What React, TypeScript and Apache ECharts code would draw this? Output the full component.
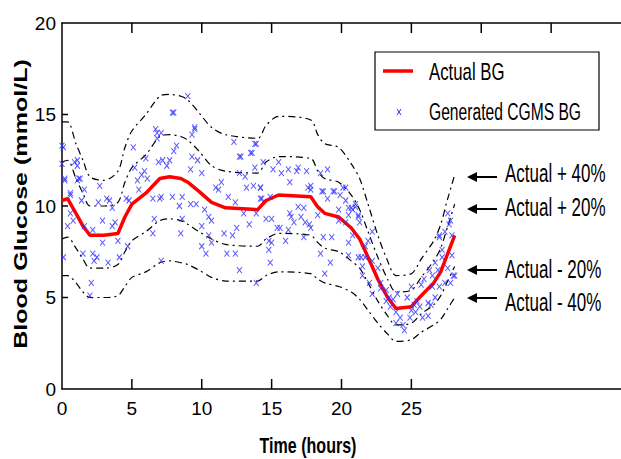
import React, { useEffect, useRef } from "react";
import * as echarts from "echarts";

const hours = [0, 0.4, 1, 1.5, 2, 3, 4, 4.5, 5, 6, 7, 7.7, 8.5, 9, 9.8, 10.7, 11.7, 14, 14.6, 15.5, 17.8, 18.3, 18.8, 19.8, 20.7, 21.3, 21.9, 22.6, 23.3, 23.9, 25, 25.7, 26.6, 27.1, 27.6, 28.1];
const actualBG = [10.3, 10.4, 9.6, 8.9, 8.4, 8.4, 8.5, 9.4, 10.1, 10.7, 11.5, 11.6, 11.5, 11.3, 10.8, 10.2, 9.9, 9.8, 10.3, 10.6, 10.5, 9.95, 9.6, 9.4, 8.8, 8.2, 7.2, 6.0, 5.0, 4.4, 4.5, 5.1, 5.8, 6.4, 7.4, 8.4];
const plus40 = [14.6, 14.6, 13.4, 12.5, 11.6, 11.4, 11.9, 13.2, 14.1, 15.0, 16.0, 16.1, 16.0, 15.8, 15.1, 14.3, 13.9, 13.7, 14.4, 14.9, 14.7, 13.9, 13.4, 13.2, 12.3, 11.5, 10.1, 8.4, 7.0, 6.2, 6.3, 7.1, 8.1, 9.0, 10.4, 11.7];
const plus20 = [12.4, 12.5, 11.5, 10.7, 10.0, 10.0, 10.2, 11.3, 12.1, 12.8, 13.8, 13.9, 13.8, 13.6, 13.0, 12.2, 11.9, 11.8, 12.4, 12.7, 12.6, 11.9, 11.5, 11.3, 10.6, 9.8, 8.6, 7.2, 6.0, 5.3, 5.4, 6.1, 7.0, 7.7, 8.9, 10.1];
const minus20 = [8.2, 8.3, 7.7, 7.1, 6.6, 6.6, 6.8, 7.5, 8.1, 8.6, 9.2, 9.3, 9.2, 9.0, 8.6, 8.2, 7.9, 7.8, 8.2, 8.5, 8.4, 8.0, 7.7, 7.5, 7.0, 6.6, 5.8, 4.8, 4.0, 3.5, 3.6, 4.1, 4.6, 5.1, 5.9, 6.7];
const minus40 = [6.2, 6.2, 5.8, 5.3, 5.0, 5.0, 5.1, 5.6, 6.1, 6.4, 6.9, 7.0, 6.9, 6.8, 6.5, 6.1, 5.9, 5.9, 6.2, 6.4, 6.3, 6.0, 5.8, 5.6, 5.3, 4.9, 4.3, 3.6, 3.0, 2.6, 2.7, 3.1, 3.5, 3.8, 4.4, 5.0];

const cgmsPoints: [number, number][] = [
  [0.0, 13.3], [0.0, 12.3], [0.1, 13.2], [0.2, 11.4], [0.2, 11.5], [0.6, 10.7], [0.9, 12.4], [1.1, 12.2], [1.1, 12.5], [1.2, 11.5], [1.1, 11.4], [1.3, 11.5], [2.7, 11.1], [5.1, 13.2], [6.8, 14.0], [6.8, 13.7], [6.9, 12.4], [5.2, 12.1], [5.9, 11.9], [5.7, 11.7], [6.1, 11.5], [5.4, 11.4], [5.5, 10.9], [1.6, 10.9], [0.6, 10.6], [3.2, 10.4], [3.4, 10.3], [4.6, 10.4], [4.8, 10.3], [6.5, 10.4], [7.0, 10.4], [1.4, 10.3], [2.6, 10.2], [3.6, 9.9], [0.6, 9.6], [0.8, 9.2], [0.4, 8.9], [2.9, 9.2], [3.8, 9.1], [3.6, 8.9], [6.6, 9.3], [6.5, 8.5], [1.6, 8.9], [2.2, 8.7], [2.9, 8.0], [4.0, 8.1], [0.1, 7.2], [1.5, 7.4], [2.2, 7.4], [2.3, 7.0], [2.5, 7.2], [3.3, 6.9], [4.1, 7.2], [4.7, 7.8], [2.1, 5.8], [2.0, 5.1],
  [9.0, 16.0], [8.0, 15.1], [7.1, 14.0], [9.5, 14.2], [9.3, 13.9], [8.2, 13.3], [8.0, 13.0], [9.3, 12.7], [9.7, 12.5], [7.2, 12.5], [7.7, 12.5], [7.5, 12.2], [12.3, 13.5], [13.9, 13.4], [13.5, 12.9], [12.8, 12.7], [10.0, 11.8], [9.2, 12.0], [13.8, 12.1], [12.7, 11.8], [13.1, 11.6], [11.4, 11.3], [11.0, 11.0], [11.2, 10.9], [13.2, 11.0], [13.7, 11.1], [14.2, 11.0], [8.6, 10.5], [7.9, 10.5], [7.1, 10.5], [11.9, 10.5], [12.4, 10.2], [14.2, 10.4], [8.4, 10.0], [9.2, 10.1], [9.6, 10.1], [10.2, 9.8], [10.5, 9.4], [10.7, 9.2], [13.0, 9.6], [13.9, 9.6], [8.6, 9.3], [10.0, 8.9], [13.4, 9.0], [12.5, 8.8], [8.5, 8.5], [10.5, 8.4], [11.6, 8.5], [12.2, 8.4], [10.7, 8.0], [10.0, 7.8], [10.3, 7.4], [11.8, 7.4], [12.4, 7.4], [7.1, 7.0], [12.7, 6.5], [13.9, 5.8],
  [14.4, 12.4], [15.5, 12.4], [15.1, 12.0], [15.7, 11.8], [16.2, 12.0], [16.9, 12.1], [16.8, 11.9], [17.5, 11.9], [18.5, 11.8], [19.0, 12.0], [16.3, 11.3], [14.2, 11.0], [17.6, 11.0], [17.8, 10.9], [18.7, 10.8], [19.5, 10.8], [20.3, 11.0], [19.9, 10.6], [14.9, 10.5], [14.3, 10.4], [19.0, 10.4], [20.3, 10.3], [20.7, 9.9], [21.0, 9.95], [16.9, 9.95], [17.3, 9.9], [19.8, 9.8], [16.3, 9.6], [16.4, 9.4], [17.1, 9.4], [18.3, 9.5], [20.5, 9.5], [21.2, 9.5], [14.6, 9.3], [15.0, 9.3], [16.6, 9.1], [17.4, 9.1], [17.7, 9.0], [19.8, 9.2], [20.3, 9.1], [15.4, 8.8], [15.6, 8.8], [16.2, 8.7], [17.8, 8.8], [20.8, 8.4], [14.8, 8.1], [16.0, 8.1], [17.3, 8.3], [18.7, 8.3], [19.3, 8.3], [15.0, 8.0], [20.5, 8.0], [14.8, 7.6], [18.5, 7.4], [14.9, 6.9], [19.2, 6.9], [20.5, 7.3], [21.2, 7.2], [18.8, 6.3],
  [12.7, 12.7], [13.6, 12.9], [13.8, 13.4], [17.8, 11.1], [18.6, 10.8], [19.4, 10.8], [20.1, 11.0], [21.0, 10.1], [20.8, 9.8], [20.5, 9.9], [6.0, 12.6], [6.7, 14.2], [7.9, 15.1], [9.5, 14.3],
  [21.2, 9.4], [21.3, 9.1], [22.2, 8.6], [21.9, 8.1], [21.7, 7.8], [21.4, 7.2], [21.7, 7.2], [22.2, 7.0], [21.5, 6.7], [22.6, 6.6], [21.5, 6.2], [22.0, 5.8], [22.8, 5.8], [22.8, 5.5], [22.2, 5.2], [23.2, 5.4], [23.4, 5.0], [23.7, 4.9], [24.0, 5.2], [23.2, 4.8], [23.5, 4.5], [23.9, 4.2], [24.2, 3.9], [23.9, 3.6], [24.5, 3.2], [24.4, 3.5], [24.9, 3.9], [25.0, 4.3], [24.7, 5.0], [25.0, 5.6], [25.2, 4.6], [25.3, 4.2], [25.6, 4.5], [25.4, 4.8], [25.8, 3.9], [26.2, 4.7], [26.2, 4.0], [26.4, 4.6], [25.7, 5.7], [25.9, 6.0], [26.3, 6.5], [26.5, 6.2], [26.5, 5.6], [26.7, 6.9], [26.9, 6.5], [27.0, 5.6], [26.7, 5.0], [27.2, 7.2], [27.6, 6.6], [27.4, 5.8], [27.9, 7.3], [28.0, 6.2], [27.8, 5.8], [28.1, 6.2], [27.2, 7.6], [27.0, 8.3], [27.4, 8.6], [27.7, 9.0], [27.8, 9.2], [27.6, 9.6], [27.0, 8.4], [27.9, 8.4],
];

const bottomTicks = [5, 10, 15, 20, 25];
const topTicks = [5, 10, 15, 20, 25, 30, 35];
const yTicks = [5, 10, 15];
const bottomLabels = [0, 5, 10, 15, 20, 25];

const legendItems = ["Actual BG", "Generated CGMS BG"];

const annotations = [
  { label: "Actual + 40%", arrowY: 177, textY: 174 },
  { label: "Actual + 20%", arrowY: 209, textY: 208 },
  { label: "Actual - 20%", arrowY: 270, textY: 270 },
  { label: "Actual - 40%", arrowY: 298, textY: 303 },
];

const SANS = '"Liberation Sans", Arial, sans-serif';
const BLUE = "#3030ff";
const AXIS = "#000";

const zip = (xs: number[], ys: number[]) => xs.map((x, i) => [x, ys[i]]);

const bandSeries = (name: string, vals: number[]) => ({
  name,
  type: "line",
  data: zip(hours, vals),
  symbol: "none",
  smooth: 0.3,
  silent: true,
  color: "#000",
  lineStyle: { color: "#000", width: 1.2, type: [7, 4, 2, 4] },
  z: 2,
});

// tick marks: thin rect symbols anchored on the axes through the library's scales
const tickSeries = (name: string, data: number[][], xAxisIndex: number, size: number[], offset: number[]) => ({
  name,
  type: "scatter",
  xAxisIndex,
  yAxisIndex: 0,
  data,
  symbol: "rect",
  symbolSize: size,
  symbolOffset: offset,
  silent: true,
  clip: false,
  itemStyle: { color: AXIS, opacity: 1 },
  z: 6,
});

const scaledText = (text: string, x: number, y: number, size: number, sx: number, align: string, extra: any = {}) => ({
  type: "text",
  x,
  y,
  scaleX: sx,
  ...extra,
  style: { text, fontFamily: SANS, fontSize: size, fill: "#000", align, verticalAlign: "middle" },
});

export default function App() {
  const ref = useRef<HTMLDivElement>(null);
  useEffect(() => {
    const chart = echarts.init(ref.current!, null, { renderer: "svg" });
    const axisLine = { show: true, lineStyle: { color: AXIS, width: 1.5 } };

    const graphics: any[] = [
      {
        type: "text",
        x: 21,
        y: 204,
        rotation: Math.PI / 2,
        scaleX: 1.32,
        style: {
          text: "Blood Glucose (mmol/L)",
          fontFamily: SANS,
          fontWeight: "bold",
          fontSize: 19,
          fill: "#000",
          align: "center",
          verticalAlign: "middle",
        },
      },
      {
        type: "text",
        x: 308,
        y: 446,
        scaleX: 0.73,
        style: {
          text: "Time (hours)",
          fontFamily: SANS,
          fontWeight: "bold",
          fontSize: 22,
          fill: "#000",
          align: "center",
          verticalAlign: "middle",
        },
      },
      {
        type: "rect",
        shape: { x: 375, y: 52, width: 224, height: 78 },
        style: { fill: "#fff", stroke: "#000", lineWidth: 1.2 },
        z: 10,
      },
      {
        type: "line",
        shape: { x1: 383, y1: 71, x2: 413, y2: 71 },
        style: { stroke: "#ff0000", lineWidth: 3.5 },
        z: 11,
      },
      {
        type: "line",
        shape: { x1: 397, y1: 109, x2: 401, y2: 115 },
        style: { stroke: BLUE, lineWidth: 1 },
        z: 11,
      },
      {
        type: "line",
        shape: { x1: 401, y1: 109, x2: 397, y2: 115 },
        style: { stroke: BLUE, lineWidth: 1 },
        z: 11,
      },
      scaledText(legendItems[0], 429, 71, 24, 0.7, "left", { z: 11 }),
      scaledText(legendItems[1], 429, 112, 23, 0.68, "left", { z: 11 }),
    ];
    annotations.forEach((a) => {
      graphics.push({
        type: "line",
        shape: { x1: 475, y1: a.arrowY, x2: 497, y2: a.arrowY },
        style: { stroke: "#000", lineWidth: 2 },
      });
      graphics.push({
        type: "polygon",
        shape: { points: [[467, a.arrowY], [477, a.arrowY - 5], [477, a.arrowY + 5]] },
        style: { fill: "#000" },
      });
      graphics.push(scaledText(a.label, 505, a.textY, 25, 0.68, "left"));
    });

    chart.setOption({
      animation: false,
      backgroundColor: "#fff",
      grid: { left: 62, top: 23, right: -4, bottom: 70 },
      xAxis: [
        {
          type: "value",
          min: 0,
          max: 40,
          interval: 5,
          position: "bottom",
          axisLine,
          axisTick: { show: false },
          axisLabel: { customValues: bottomLabels, fontFamily: SANS, fontSize: 19, color: "#000", margin: 10 },
          splitLine: { show: false },
        },
        {
          type: "value",
          min: 0,
          max: 40,
          interval: 5,
          position: "top",
          axisLine,
          axisTick: { show: false },
          axisLabel: { show: false },
          splitLine: { show: false },
        },
      ],
      yAxis: {
        type: "value",
        min: 0,
        max: 20,
        interval: 5,
        axisLine,
        axisTick: { show: false },
        axisLabel: { fontFamily: SANS, fontSize: 19, color: "#000", margin: 6 },
        splitLine: { show: false },
      },
      series: [
        bandSeries("Actual + 40%", plus40),
        bandSeries("Actual + 20%", plus20),
        bandSeries("Actual - 20%", minus20),
        bandSeries("Actual - 40%", minus40),
        {
          name: legendItems[0],
          type: "line",
          data: zip(hours, actualBG),
          symbol: "none",
          color: "#ff0000",
          lineStyle: { color: "#ff0000", width: 3.5 },
          z: 3,
        },
        {
          name: legendItems[1],
          type: "scatter",
          data: cgmsPoints,
          symbol: "path://M0,0L1,1M1,0L0,1",
          symbolSize: [5, 6],
          itemStyle: { color: "rgba(0,0,0,0)", borderColor: BLUE, borderWidth: 1 },
          z: 4,
        },
        tickSeries("bottomTicks", bottomTicks.map((v) => [v, 0]), 0, [1.5, 10], [0, -5]),
        tickSeries("topTicks", topTicks.map((v) => [v, 20]), 1, [1.5, 10], [0, 5]),
        tickSeries("yTicks", yTicks.map((v) => [0, v]), 0, [6, 1.5], [3, 0]),
      ],
      graphic: graphics,
    });

    return () => chart.dispose();
  }, []);
  return (
    <div
      ref={ref}
      style={{ position: "absolute", left: 0, top: 0, width: 621, height: 459, background: "#fff" }}
    />
  );
}
